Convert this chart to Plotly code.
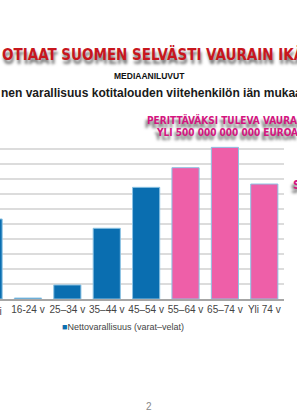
import plotly.graph_objects as go

categories = ["Kaikki", "16-24 v", "25–34 v", "35–44 v", "45–54 v", "55–64 v", "65–74 v", "Yli 74 v"]
values = [106700, 1300, 18700, 94300, 148900, 175100, 202200, 153300]
bar_colors = ["#0a6eb0"] * 5 + ["#ee5fa8"] * 3

W, H = 297, 420
PL, PR, PT, PB = 0, 284, 134, 299  # plot area in pixels


def px(x):
    return (x - PL) / (PR - PL)


def py(y):
    return (PB - y) / (PB - PT)


fig = go.Figure()
fig.add_trace(go.Bar(
    x=categories, y=values,
    marker=dict(color=bar_colors, line=dict(color="#8cc3e4", width=1)),
    showlegend=False,
))

title_font = "Liberation Sans Narrow, DejaVu Sans Condensed, DejaVu Sans"
ann = []
ann.append(dict(text="OTIAAT SUOMEN SELVÄSTI VAURAIN IKÄRYHMÄ", x=px(0), y=py(54), xanchor="left", yanchor="middle",
                font=dict(family=title_font, size=15, color="#c8161d", weight="bold",
                          shadow="1px 4px 3px rgba(0,0,0,0.55)")))
ann.append(dict(text="MEDIAANILUVUT", x=px(149), y=py(75.5), xanchor="center", yanchor="middle",
                font=dict(family="Liberation Sans, Arial", size=8.5, color="#111", weight="bold")))
ann.append(dict(text="nen varallisuus kotitalouden viitehenkilön iän mukaan", x=px(-1), y=py(93), xanchor="left", yanchor="middle",
                font=dict(family="Liberation Sans, Arial", size=12, color="#1a1a1a", weight="bold")))
pink = "#d4157f"
ann.append(dict(text="PERITTÄVÄKSI TULEVA VAURAUS", x=px(145), y=py(119.5), xanchor="left", yanchor="middle",
                font=dict(family=title_font, size=10, color=pink, weight="bold",
                          shadow="-2px 4px 3px rgba(0,0,0,0.6)")))
ann.append(dict(text="YLI 500 000 000 000 EUROA", x=px(154), y=py(132), xanchor="left", yanchor="middle",
                font=dict(family=title_font, size=10, color=pink, weight="bold",
                          shadow="-2px 4px 3px rgba(0,0,0,0.6)")))
ann.append(dict(text="S", x=px(291), y=py(185), xanchor="left", yanchor="middle",
                font=dict(family=title_font, size=12, color=pink, weight="bold",
                          shadow="-2px 4px 3px rgba(0,0,0,0.6)")))
ann.append(dict(text="Kaikki", x=px(-11.5), y=py(311), xanchor="center", yanchor="middle",
                font=dict(family="Liberation Sans, Arial", size=10, color="#444")))
ann.append(dict(text="<span style='color:#0a6eb0'>■</span>Nettovarallisuus (varat–velat)", x=px(60), y=py(327), xanchor="left", yanchor="middle",
                font=dict(family="Liberation Sans, Arial", size=9, color="#444")))
ann.append(dict(text="2", x=px(149), y=py(406.5), xanchor="center", yanchor="middle",
                font=dict(family="Liberation Sans, Arial", size=10, color="#888")))
for a in ann:
    a.update(xref="paper", yref="paper", showarrow=False)

fig.update_layout(
    width=W, height=H,
    margin=dict(l=PL, r=W - PR, t=PT, b=H - PB, pad=0),
    paper_bgcolor="white", plot_bgcolor="white",
    bargap=0.31,
    annotations=ann,
    xaxis=dict(type="category", range=[0.29, 7.5], showgrid=False, showline=True, linecolor="#a6a6a6", linewidth=1.5,
               ticks="", tickfont=dict(family="Liberation Sans, Arial", size=10, color="#444"), fixedrange=True),
    yaxis=dict(range=[0, 220000], dtick=20000, showgrid=True, gridcolor="#dcdcdc", gridwidth=1.5,
               showticklabels=False, zeroline=False, ticks=""),
)
fig.write_html("out.html")
